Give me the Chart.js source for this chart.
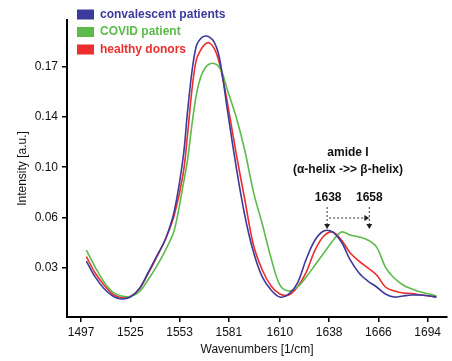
<!DOCTYPE html>
<html>
<head>
<meta charset="utf-8">
<script src="https://cdn.jsdelivr.net/npm/chart.js@4.4.1/dist/chart.umd.min.js"></script>
<style>
  html, body { margin: 0; padding: 0; background: #fff; }
  #wrap { width: 452px; height: 361px; }
</style>
</head>
<body>
<div id="wrap"><canvas id="spectra" width="452" height="361"></canvas></div>
<script>
const wavenumbers = [1500, 1505, 1510, 1515, 1520, 1525, 1530, 1535, 1540, 1545, 1550, 1555,
  1557.5, 1560, 1562.5, 1565, 1567.5, 1570, 1572.5, 1575, 1577.5, 1580,
  1585, 1590, 1595, 1600, 1605, 1610, 1615, 1620, 1625, 1630, 1635, 1640, 1645, 1650,
  1655, 1660, 1665, 1670, 1675, 1680, 1685, 1690, 1695, 1699];

const convalescent = [0.0299, 0.0182, 0.0097, 0.0042, 0.0020, 0.0034, 0.0093, 0.0211, 0.0336, 0.0461, 0.0668, 0.1058,
  0.1397, 0.1691, 0.1883, 0.1938, 0.1956, 0.1948, 0.1915, 0.1831, 0.1654, 0.1426,
  0.1006, 0.0638, 0.0366, 0.0182, 0.0086, 0.0034, 0.0056, 0.0137, 0.0314, 0.0454, 0.0520, 0.0513, 0.0439, 0.0307,
  0.0211, 0.0152, 0.0108, 0.0056, 0.0034, 0.0042, 0.0049, 0.0049, 0.0042, 0.0034];

const covid = [0.0380, 0.0255, 0.0145, 0.0071, 0.0042, 0.0038, 0.0071, 0.0159, 0.0262, 0.0380, 0.0528, 0.0859,
  0.1043, 0.1301, 0.1522, 0.1654, 0.1721, 0.1750, 0.1754, 0.1735, 0.1676, 0.1566,
  0.1367, 0.1117, 0.0807, 0.0572, 0.0321, 0.0123, 0.0078, 0.0108, 0.0182, 0.0270, 0.0358, 0.0447, 0.0513, 0.0491,
  0.0476, 0.0454, 0.0402, 0.0255, 0.0174, 0.0123, 0.0093, 0.0071, 0.0056, 0.0042];

const healthy = [0.0332, 0.0211, 0.0123, 0.0056, 0.0031, 0.0038, 0.0093, 0.0204, 0.0329, 0.0461, 0.0638, 0.0940,
  0.1227, 0.1559, 0.1780, 0.1853, 0.1897, 0.1905, 0.1868, 0.1787, 0.1647, 0.1478,
  0.1102, 0.0756, 0.0417, 0.0233, 0.0115, 0.0056, 0.0049, 0.0108, 0.0218, 0.0380, 0.0483, 0.0513, 0.0454, 0.0358,
  0.0299, 0.0248, 0.0196, 0.0108, 0.0078, 0.0064, 0.0060, 0.0049, 0.0042, 0.0034];

const xTickValues = [1497, 1525, 1553, 1581, 1610, 1638, 1666, 1694];
const yTickValues = [0.025, 0.062, 0.099, 0.136, 0.173];
const yTickLabels = ["0.03", "0.06", "0.10", "0.14", "0.17"];
const seriesNames = ["convalescent patients", "COVID patient", "healthy donors"];
const shiftFrom = 1638;
const shiftTo = 1658;

const FONT = "'Liberation Sans', Arial, Helvetica, sans-serif";

const toPoints = (vals) => wavenumbers.map((w, i) => ({ x: w, y: vals[i] }));

// legend + amide I note drawn by hand, the original has them inside the plot
const overlay = {
  id: "overlay",
  afterDraw(chart) {
    const ctx = chart.ctx;
    const xs = chart.scales.x;
    ctx.save();

    ctx.font = "bold 12px " + FONT;
    ctx.textBaseline = "middle";
    ctx.textAlign = "left";
    chart.data.datasets.forEach((ds, i) => {
      const y = 14.5 + i * 17.5;
      ctx.fillStyle = ds.borderColor;
      ctx.fillRect(77, y - 5, 17, 10);
      ctx.fillText(ds.label, 100, y);
    });

    ctx.fillStyle = "#111";
    ctx.textAlign = "center";
    ctx.font = "bold 12px " + FONT;
    ctx.fillText("amide I", 348, 153);
    ctx.fillText("(\u03b1-helix ->> \u03b2-helix)", 348, 170);

    const xa = xs.getPixelForValue(shiftFrom) - 2;
    const xb = xs.getPixelForValue(shiftTo) + 5;
    ctx.fillText(String(shiftFrom), xa + 1, 198);
    ctx.fillText(String(shiftTo), xb, 198);

    ctx.strokeStyle = "#333";
    ctx.lineWidth = 1;
    ctx.setLineDash([2, 2]);
    ctx.beginPath();
    ctx.moveTo(xa, 207); ctx.lineTo(xa, 224);
    ctx.moveTo(xa + 2, 218); ctx.lineTo(xb - 4, 218);
    ctx.moveTo(xb, 207); ctx.lineTo(xb, 224);
    ctx.stroke();
    ctx.setLineDash([]);

    ctx.fillStyle = "#222";
    const tri = (pts) => {
      ctx.beginPath();
      ctx.moveTo(pts[0], pts[1]); ctx.lineTo(pts[2], pts[3]); ctx.lineTo(pts[4], pts[5]);
      ctx.closePath(); ctx.fill();
    };
    tri([xa - 3, 224, xa + 3, 224, xa, 229]);
    tri([xb - 3, 224, xb + 3, 224, xb, 229]);
    tri([xb - 5, 215, xb - 5, 221, xb, 218]);
    ctx.restore();
  }
};

new Chart(document.getElementById("spectra"), {
  type: "line",
  data: {
    datasets: [
      { label: seriesNames[0], data: toPoints(convalescent), borderColor: "#3c3a9b", borderWidth: 1.6 },
      { label: seriesNames[1], data: toPoints(covid), borderColor: "#5cbb4a", borderWidth: 1.6 },
      { label: seriesNames[2], data: toPoints(healthy), borderColor: "#ee2d2d", borderWidth: 1.6 }
    ]
  },
  options: {
    responsive: false,
    animation: false,
    layout: { padding: { top: 20, right: 5, left: 0, bottom: 0 } },
    elements: {
      point: { radius: 0 },
      line: { tension: 0.35, fill: false }
    },
    plugins: { legend: { display: false }, tooltip: { enabled: false } },
    scales: {
      x: {
        type: "linear",
        min: 1489,
        max: 1705,
        afterFit: s => { s.height = 44; },
        afterBuildTicks: s => { s.ticks = xTickValues.map(v => ({ value: v })); },
        grid: { drawOnChartArea: false, drawTicks: true, tickLength: 5, color: "#000", lineWidth: 1.5 },
        border: { display: true, color: "#000", width: 2 },
        ticks: { color: "#111", font: { family: FONT, size: 12 }, padding: 3, maxRotation: 0, callback: v => String(v) },
        title: { display: true, text: "Wavenumbers [1/cm]", color: "#111", font: { family: FONT, size: 12 }, padding: { bottom: 4, top: 0 } }
      },
      y: {
        type: "linear",
        min: -0.0113,
        max: 0.2074,
        afterFit: s => { s.width = 67; },
        afterBuildTicks: s => { s.ticks = yTickValues.map(v => ({ value: v })); },
        grid: { drawOnChartArea: false, drawTicks: true, tickLength: 5, color: "#000", lineWidth: 1.5 },
        border: { display: true, color: "#000", width: 2 },
        ticks: {
          color: "#111",
          font: { family: FONT, size: 12 },
          padding: 4,
          callback: (v) => {
            const i = yTickValues.indexOf(v);
            return i >= 0 ? yTickLabels[i] : "";
          }
        },
        title: { display: true, text: "Intensity [a.u.]", color: "#111", font: { family: FONT, size: 12 }, padding: { top: 15, bottom: 0 } }
      }
    }
  },
  plugins: [overlay]
});
</script>
</body>
</html>
